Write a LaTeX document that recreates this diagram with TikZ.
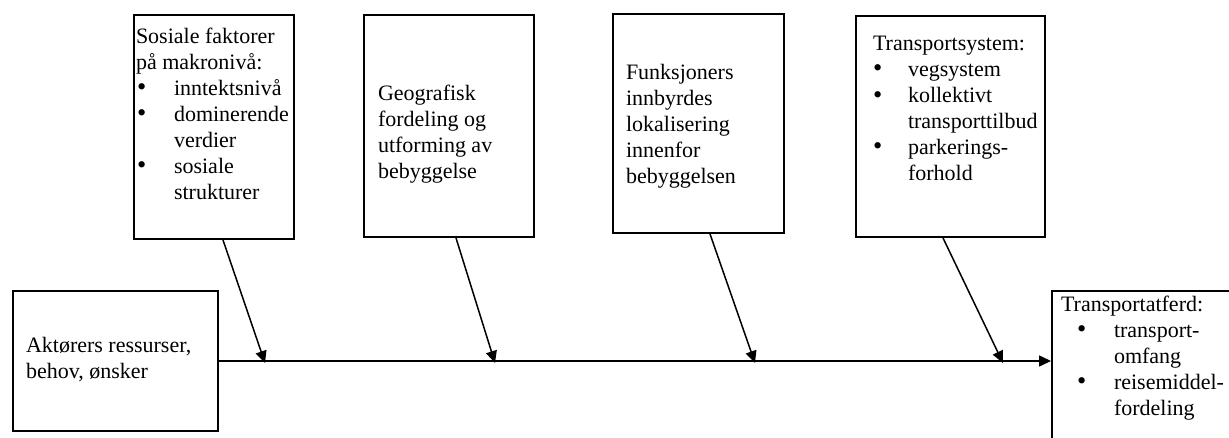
\documentclass[tikz,border=0pt]{standalone}
\usepackage{fontspec}
\setmainfont{Liberation Serif}
\usetikzlibrary{arrows.meta}

% kulepunkt: forskyvning av kula, innrykk for teksten
\newcommand{\punkt}[2]{\makebox[#2][l]{\hspace{#1}\scalebox{1.2}{\textbullet}}}
% innhold i en boks: bredde, hoyde, luft over, luft til venstre, tekst
\newcommand{\boksfelt}[5]{\parbox[c][#2][t]{#1}{\vspace*{#3}\raggedright\leftskip=#4\relax\strut#5\par}}

\begin{document}
\begin{tikzpicture}[x=0.5pt, y=-0.5pt,
  every node/.style={font=\fontsize{11}{13}\selectfont},
  boks/.style={draw, line width=1pt, inner sep=0pt, anchor=north west},
  pil/.style={line width=0.75pt, -{Triangle[length=6pt, width=5.5pt]}}]
  \clip (0,0) rectangle (1229,438);
  % de fire boksene oppe
  \node[boks] (b1) at (133,14) {\boksfelt{80pt}{112pt}{5.4pt}{1pt}{Sosiale faktorer\\på makronivå:\\
    \punkt{0.5pt}{19pt}inntektsnivå\\\punkt{0.5pt}{19pt}dominerende\\\hspace*{19pt}verdier\\
    \punkt{0.5pt}{19pt}sosiale\\\hspace*{19pt}strukturer}};
  \node[boks] (b2) at (363,14) {\boksfelt{85pt}{111pt}{33.9pt}{7pt}{Geografisk\\fordeling og\\utforming av\\bebyggelse}};
  \node[boks] (b3) at (612,13) {\boksfelt{85.5pt}{109.5pt}{23.9pt}{6.5pt}{Funksjoners\\innbyrdes\\lokalisering\\innenfor\\bebyggelsen}};
  \node[boks] (b4) at (855,15) {\boksfelt{94.5pt}{110.5pt}{8.4pt}{8.5pt}{Transportsystem:\\
    \punkt{0pt}{17.5pt}vegsystem\\\punkt{0pt}{17.5pt}kollektivt\\\hspace*{17.5pt}transporttilbud\\
    \punkt{0pt}{17.5pt}parkerings-\\\hspace*{17.5pt}forhold}};
  % aktørene til venstre, atferden til høyre
  \node[boks] (lb) at (12,290) {\boksfelt{102.5pt}{70pt}{21.4pt}{6.5pt}{Aktørers ressurser,\\behov, ønsker}};
  \node[boks] (rb) at (1051,290) {\boksfelt{100pt}{85pt}{0.9pt}{4.5pt}{Transportatferd:\\
    \punkt{8pt}{26.5pt}transport-\\\hspace*{26.5pt}omfang\\
    \punkt{8pt}{26.5pt}reisemiddel-\\\hspace*{26.5pt}fordeling}};
  % hovedlinja
  \draw[pil] (lb.east) -- (lb.east -| rb.west);
  % pilene ned på linja
  \coordinate (p1) at (265,363);
  \coordinate (p2) at (495,363);
  \coordinate (p3) at (755,363);
  \coordinate (p4) at (1003,363);
  \draw[pil] ([xshift=4.5pt]b1.south) -- (p1);
  \draw[pil] ([xshift=3.5pt]b2.south) -- (p2);
  \draw[pil] ([xshift=5.75pt]b3.south) -- (p3);
  \draw[pil] ([xshift=-3.75pt]b4.south) -- (p4);
\end{tikzpicture}
\end{document}
